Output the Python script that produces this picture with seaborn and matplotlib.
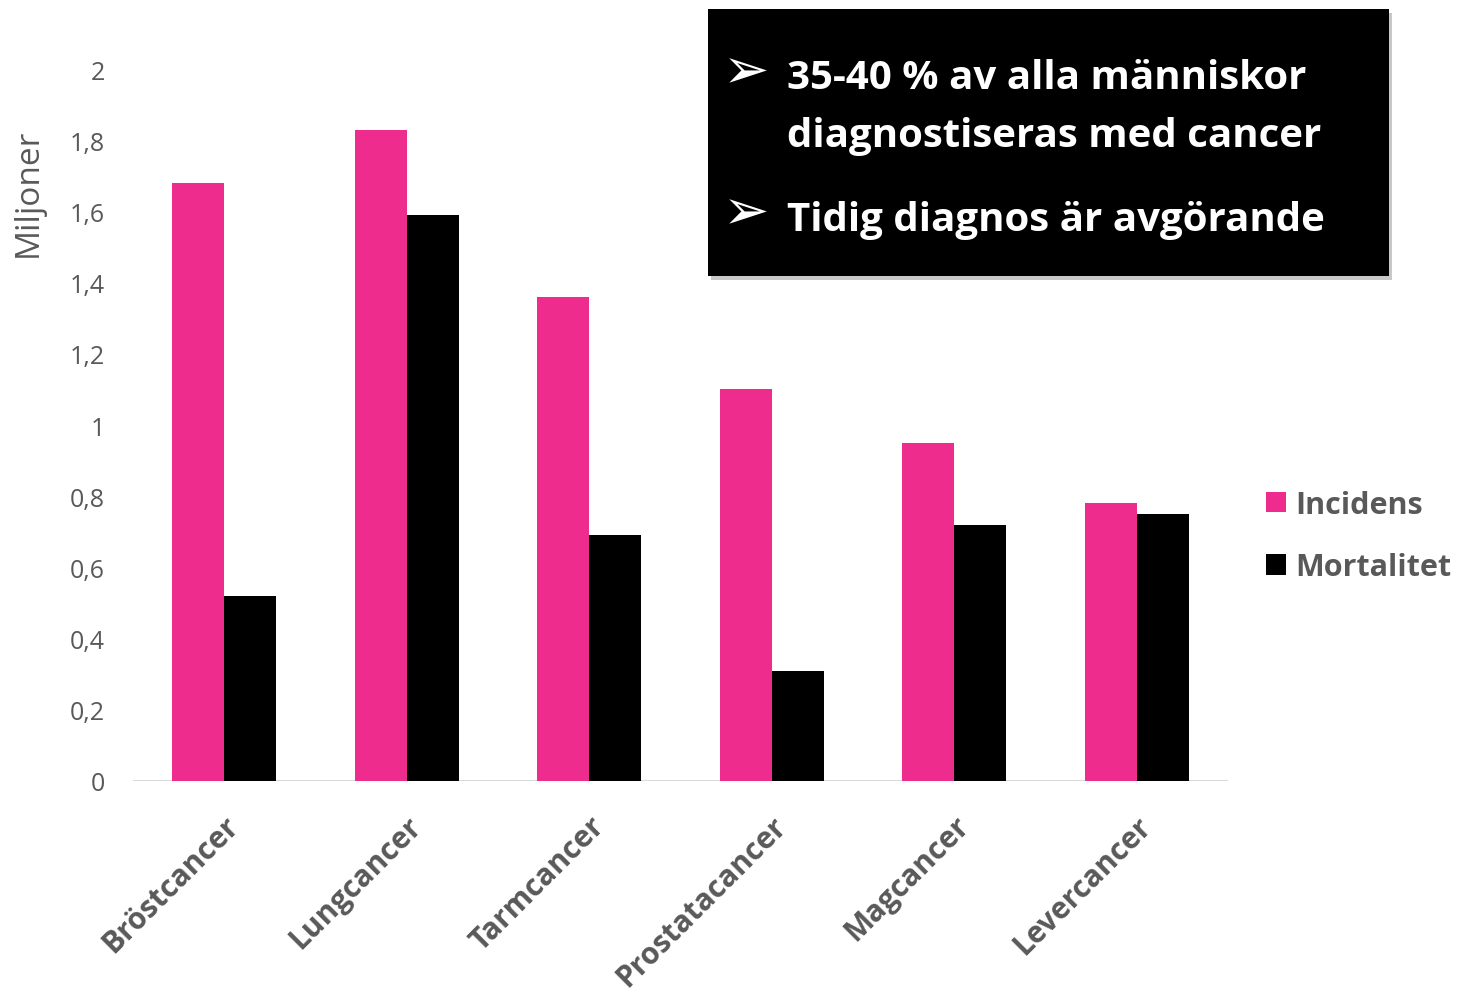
import pandas as pd
import seaborn as sns
import matplotlib.pyplot as plt
from matplotlib.patches import Rectangle

# data (millions)
categories = ["Bröstcancer", "Lungcancer", "Tarmcancer", "Prostatacancer", "Magcancer", "Levercancer"]
incidens = [1.68, 1.83, 1.36, 1.10, 0.95, 0.78]
mortalitet = [0.52, 1.59, 0.69, 0.31, 0.72, 0.75]
series = ["Incidens", "Mortalitet"]
yticks = [0, 0.2, 0.4, 0.6, 0.8, 1.0, 1.2, 1.4, 1.6, 1.8, 2.0]
ytick_labels = ["0", "0,2", "0,4", "0,6", "0,8", "1", "1,2", "1,4", "1,6", "1,8", "2"]
box_lines = ["35-40 % av alla människor", "diagnostiseras med cancer", "Tidig diagnos är avgörande"]

sns.set_style("white")
plt.rcParams["font.family"] = ["Open Sans", "DejaVu Sans"]

grey = "#595959"
pink = "#EE2C8E"

df = pd.DataFrame({
    "kategori": categories * 2,
    "varde": incidens + mortalitet,
    "serie": [series[0]] * len(categories) + [series[1]] * len(categories),
})

fig = plt.figure(figsize=(14.61, 9.95), dpi=100)
W, H = 1461, 995
ax = fig.add_axes([133 / W, 1 - 782 / H, (1228 - 133) / W, (782 - 70) / H])

sns.barplot(data=df, x="kategori", y="varde", hue="serie", palette=[pink, "#000000"],
            width=0.57, saturation=1, linewidth=0, ax=ax)

ax.set_xlim(-0.5, len(categories) - 0.5)
ax.set_ylim(0, 2)
for s in ax.spines.values():
    s.set_visible(False)
ax.axhline(0, color="#D9D9D9", lw=1.5, zorder=0)
ax.set_xlabel("")
ax.set_ylabel("")
ax.tick_params(length=0)
ax.set_yticks(yticks)
ax.set_yticklabels(ytick_labels, color=grey, fontsize=18)
ax.tick_params(axis="y", pad=20)
ax.set_xticks(range(len(categories)))
ax.set_xticklabels(categories, rotation=45, ha="right", va="top", rotation_mode="anchor",
                   color=grey, fontsize=21.5, fontweight="bold")
ax.tick_params(axis="x", pad=21)

fig.text(28 / W, 1 - 193 / H, "Miljoner", rotation=90, ha="center", va="center",
         color=grey, fontsize=24)

handles, labels = ax.get_legend_handles_labels()
ax.legend(handles, labels, loc="center left", bbox_to_anchor=(1266 / W, 1 - 537 / H),
          bbox_transform=fig.transFigure, frameon=False, handlelength=0.65,
          handleheight=0.65, handletextpad=0.3, labelspacing=1.05, borderpad=0,
          borderaxespad=0, prop={"size": 22, "weight": "bold"}, labelcolor=grey)

# text box with shadow
fig.add_artist(Rectangle(((708 + 3) / W, 1 - (277 + 4) / H), 681 / W, 267 / H,
                         transform=fig.transFigure, facecolor="#C8C8C8", edgecolor="none", zorder=5))
fig.add_artist(Rectangle((708 / W, 1 - 277 / H), 681 / W, 267 / H,
                         transform=fig.transFigure, facecolor="black", edgecolor="none", zorder=6))
for y in [73, 214]:
    fig.text(746 / W, 1 - y / H, "➢", color="white", fontsize=40, ha="center",
             va="center", family="DejaVu Sans", zorder=7)
for txt, y in zip(box_lines, [89, 147, 231]):
    fig.text(787 / W, 1 - y / H, txt, color="white", fontsize=29, fontweight="bold",
             ha="left", va="baseline", zorder=7)

fig.savefig("out.png", dpi=100)
